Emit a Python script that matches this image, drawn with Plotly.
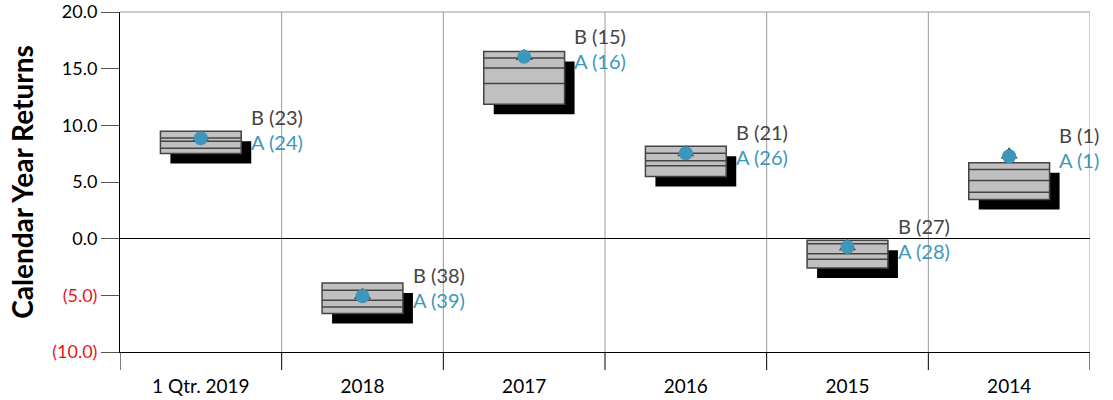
import plotly.graph_objects as go

categories = ["1 Qtr. 2019", "2018", "2017", "2016", "2015", "2014"]
p05 = [9.47, -3.91, 16.52, 8.15, -0.15, 6.69]
p25 = [8.89, -4.55, 15.94, 7.54, -0.44, 6.10]
p50 = [8.59, -5.43, 15.06, 6.87, -1.32, 5.13]
p75 = [7.98, -6.02, 13.70, 6.43, -1.82, 4.10]
p95 = [7.51, -6.60, 11.86, 5.49, -2.59, 3.46]
a_vals = [8.86, -5.08, 16.05, 7.54, -0.74, 7.27]
b_vals = [8.9, -5.0, 16.1, 7.6, -0.7, 7.4]
a_ranks = [24, 39, 16, 26, 28, 1]
b_ranks = [23, 38, 15, 21, 27, 1]
y_ticks = [20, 15, 10, 5, 0, -5, -10]

FONT = "Lato"
BLUE = "#3d97ba"
DARK = "#444444"
GRID = "#999999"

W, H = 1113, 400
ML, MR, MT, MB = 120, 23, 12, 48
YMIN, YMAX = -10, 20
XMIN, XMAX = -0.5, len(categories) - 0.5
px_x = (W - ML - MR) / (XMAX - XMIN)
px_y = (H - MT - MB) / (YMAX - YMIN)
dx = 10 / px_x
dy = 10 / px_y
half = 0.25

xs = list(range(len(categories)))
heights = [t - b for t, b in zip(p05, p95)]

fig = go.Figure()
# shadow
fig.add_trace(go.Bar(x=[x + dx for x in xs], y=heights, base=[b - dy for b in p95],
                     width=2 * half, marker=dict(color="black", line=dict(width=0)),
                     hoverinfo="skip", showlegend=False))
# box
fig.add_trace(go.Bar(x=xs, y=heights, base=p95, width=2 * half,
                     marker=dict(color="#c0c0c0", line=dict(color=DARK, width=1.5)),
                     hoverinfo="skip", showlegend=False))
# inner lines
lx, ly = [], []
for i in xs:
    for v in (p25[i], p50[i], p75[i]):
        lx += [i - half, i + half, None]
        ly += [v, v, None]
fig.add_trace(go.Scatter(x=lx, y=ly, mode="lines", line=dict(color=DARK, width=1.5),
                         hoverinfo="skip", showlegend=False))
# markers
fig.add_trace(go.Scatter(x=xs, y=b_vals, mode="markers",
                         marker=dict(symbol="triangle-up", size=15, color=DARK),
                         showlegend=False))
fig.add_trace(go.Scatter(x=xs, y=a_vals, mode="markers",
                         marker=dict(symbol="circle", size=14, color=BLUE),
                         showlegend=False))

# labels
for i in xs:
    fig.add_annotation(x=i, y=a_vals[i], xref="x", yref="y", text=f"B ({b_ranks[i]})",
                       xanchor="left", yanchor="middle", xshift=48, yshift=21,
                       showarrow=False, font=dict(family=FONT, size=20, color=DARK))
    fig.add_annotation(x=i, y=a_vals[i], xref="x", yref="y", text=f"A ({a_ranks[i]})",
                       xanchor="left", yanchor="middle", xshift=48, yshift=-4,
                       showarrow=False, font=dict(family=FONT, size=20, color=BLUE))

shapes = []
# vertical grid lines at category boundaries
for k in range(1, len(categories) + 1):
    shapes.append(dict(type="line", xref="x", yref="paper", x0=k - 0.5, x1=k - 0.5,
                       y0=0, y1=1, line=dict(color=GRID, width=1), layer="below"))
# top border
shapes.append(dict(type="line", xref="paper", yref="paper", x0=0, x1=1, y0=1, y1=1,
                   line=dict(color=GRID, width=1), layer="below"))
# tick marks below x axis
ext = 18 / (H - MT - MB)
for k in range(0, len(categories) + 1):
    shapes.append(dict(type="line", xref="x", yref="paper", x0=k - 0.5, x1=k - 0.5,
                       y0=-ext, y1=0, line=dict(color="black", width=1)))
fig.update_layout(shapes=shapes)

def fmt(v):
    if v < 0:
        return f'<span style="color:#e8141b">({abs(v):.1f})</span>'
    return f"{v:.1f}"

fig.update_layout(
    width=W, height=H, margin=dict(l=ML, r=MR, t=MT, b=MB),
    plot_bgcolor="white", paper_bgcolor="white", barmode="overlay",
    font=dict(family=FONT, color="black"),
    xaxis=dict(range=[XMIN, XMAX], tickvals=xs, ticktext=categories, ticks="",
               showgrid=False, zeroline=False, showline=True, linecolor="black",
               linewidth=1, ticklabelstandoff=17, automargin=False,
               tickfont=dict(family=FONT, size=19, color="black")),
    yaxis=dict(range=[YMIN, YMAX], tickvals=y_ticks, ticktext=[fmt(v) for v in y_ticks],
               ticks="outside", ticklen=18, tickcolor="#555555", showgrid=False,
               zeroline=True, zerolinecolor="black", zerolinewidth=1,
               showline=True, linecolor="black", linewidth=1, automargin=False,
               tickfont=dict(family=FONT, size=18, color="black"),
               title=dict(text="<b>Calendar Year Returns</b>", standoff=10,
                          font=dict(family=FONT, size=28, color="black"))),
)

fig.write_html("out.html", config={"displayModeBar": False},
               post_script="document.body.style.margin='0';document.body.style.padding='0';")
